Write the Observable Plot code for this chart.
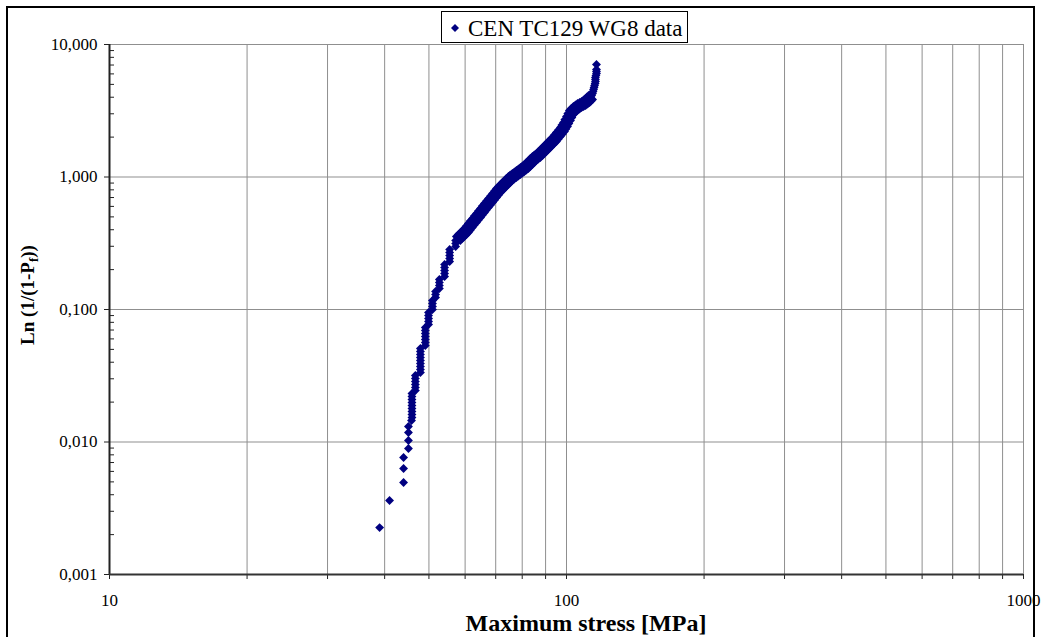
<!DOCTYPE html>
<html>
<head>
<meta charset="utf-8">
<script src="https://cdn.jsdelivr.net/npm/d3@7"></script>
<script src="https://cdn.jsdelivr.net/npm/@observablehq/plot@0.6"></script>
<style>
  body { margin: 0; background: #fff; overflow: hidden; }
  #wrap { position: relative; width: 1041px; height: 637px; font-family: "Liberation Serif", "Times New Roman", serif; }
  #wrap > svg { position: absolute; left: 0; top: 0; }
  #overlay { pointer-events: none; }
</style>
</head>
<body>
<div id="wrap"></div>
<script>
// ---- data ----
const seriesName = "CEN TC129 WG8 data";
const xTitle = "Maximum stress [MPa]";

// maximum stress [MPa]
const stress = [
  39.0, 41.0, 44.0, 44.0, 44.0, 45.1, 45.1, 45.1, 45.1, 45.8,
  45.9, 45.9, 45.9, 45.9, 45.9, 45.9, 45.9, 45.9, 45.9,
  46.7, 46.7, 46.7, 46.7, 46.7, 46.7,
  47.9, 47.9, 47.9, 47.9, 47.9, 47.9, 47.9, 47.9, 47.9,
  49.1, 49.1, 49.1, 49.1, 49.1, 49.1, 49.1,
  49.9, 49.9, 49.9, 49.9, 49.9,
  50.9, 50.9, 50.9, 50.9,
  51.7, 51.7, 51.7,
  52.7, 52.7, 52.7, 52.7,
  54.1, 54.1, 54.1, 54.1, 54.1,
  55.5, 55.5, 55.5, 55.5, 55.5,
  57.2, 57.2, 57.2,
  58.0, 58.6, 59.2, 59.8, 60.4, 61.0, 61.6, 62.2, 62.9, 63.5,
  64.2, 64.8, 65.5, 66.1, 66.8, 67.5, 68.2, 68.9, 69.6, 70.3,
  71.0, 71.7, 72.4, 73.1, 73.9, 74.6, 75.4, 76.1, 76.9, 77.7,
  78.5, 79.3, 80.1, 80.9, 81.7, 82.5, 83.4, 84.2, 85.1, 85.9,
  86.8, 87.7, 88.6, 89.5, 90.4, 91.3, 92.2, 93.1, 94.1, 95.0,
  96.0, 97.0, 98.0, 98.7, 99.5, 100.2, 101.0, 101.7, 102.5, 103.5,
  104.6, 105.7, 106.8, 107.9, 109.0, 110.1, 111.2, 112.0, 112.9, 113.5,
  114.0, 114.3, 114.6, 114.9, 115.2, 115.5, 115.7, 115.7, 115.7, 116.0,
  116.3, 116.3, 116.3, 116.3
];

// Ln(1/(1-Pf))
const lnValues = [
  0.00226, 0.00362, 0.00495, 0.00631, 0.00764, 0.00893, 0.01026, 0.0118, 0.01309, 0.01453,
  0.01531, 0.01613, 0.01699, 0.0179, 0.01886, 0.01987, 0.02093, 0.02205, 0.02323,
  0.02447, 0.02578, 0.02716, 0.02861, 0.03015, 0.03176,
  0.03346, 0.03525, 0.03713, 0.03912, 0.04121, 0.04341, 0.04574, 0.04819, 0.05076,
  0.05349, 0.05635, 0.05937, 0.06254, 0.0659, 0.06942, 0.07314,
  0.07705, 0.08118, 0.08553, 0.0901, 0.09493,
  0.1, 0.1054, 0.111, 0.1169,
  0.1232, 0.1297, 0.1367,
  0.1441, 0.1517, 0.1599, 0.1684,
  0.1774, 0.1869, 0.1969, 0.2075, 0.2186,
  0.2303, 0.2426, 0.2556, 0.2693, 0.2837,
  0.2989, 0.3149, 0.3317,
  0.3434, 0.356, 0.3683, 0.381, 0.3947, 0.412, 0.4304, 0.449, 0.4694, 0.490,
  0.5121, 0.535, 0.5587, 0.583, 0.6094, 0.637, 0.6648, 0.694, 0.7251, 0.757,
  0.7909, 0.819, 0.8477, 0.878, 0.9089, 0.941, 0.9742, 1.000, 1.026, 1.053,
  1.081, 1.110, 1.139, 1.169, 1.200, 1.243, 1.287, 1.332, 1.379, 1.416,
  1.453, 1.505, 1.558, 1.613, 1.670, 1.729, 1.790, 1.853, 1.919, 2.004,
  2.093, 2.186, 2.283, 2.385, 2.491, 2.624, 2.764, 2.912, 3.068, 3.176,
  3.289, 3.375, 3.464, 3.525, 3.587, 3.681, 3.779, 3.879, 3.981, 4.12,
  4.267, 4.42, 4.575, 4.74, 4.904, 5.08, 5.258, 5.44, 5.637, 5.84,
  6.041, 6.25, 6.476, 7.066
];

// axis ticks
const xMajorTicks = [10, 100, 1000];
const xMinorTicks = [20, 30, 40, 50, 60, 70, 80, 90, 200, 300, 400, 500, 600, 700, 800, 900];
const xGridTicks = [20, 30, 40, 50, 60, 70, 80, 90, 100, 200, 300, 400, 500, 600, 700, 800, 900, 1000];
const yMajorTicks = [0.001, 0.01, 0.1, 1, 10];
const yMinorTicks = [
  0.002, 0.003, 0.004, 0.005, 0.006, 0.007, 0.008, 0.009,
  0.02, 0.03, 0.04, 0.05, 0.06, 0.07, 0.08, 0.09,
  0.2, 0.3, 0.4, 0.5, 0.6, 0.7, 0.8, 0.9,
  2, 3, 4, 5, 6, 7, 8, 9
];

const points = stress.map((s, i) => ({stress: s, ln: lnValues[i]}));
// the diagonal part of the curve is a thick band of overlapping specimens;
// it is drawn with a small pixel offset either side so that it reads as a band
const band = points.filter(d => d.ln >= 0.34 && d.ln < 4.0);
const fmtY = d => d.toFixed(3).replace(".", ",");
const dotStyle = {x: "stress", y: "ln", symbol: "diamond2", r: 4.0, fill: "#000080", stroke: "none"};

const chart = Plot.plot({
  width: 1041,
  height: 637,
  marginLeft: 109,
  marginRight: 18,
  marginTop: 44,
  marginBottom: 63,
  x: {type: "log", domain: [10, 1000], label: null},
  y: {type: "log", domain: [0.001, 10], label: null},
  style: {fontFamily: "Liberation Serif, Times New Roman, serif", fontSize: "17px", color: "#000", background: "transparent", overflow: "visible"},
  marks: [
    Plot.gridX(xGridTicks, {stroke: "#8f8f8f", strokeOpacity: 1, strokeWidth: 1}),
    Plot.gridY(yMajorTicks, {stroke: "#8f8f8f", strokeOpacity: 1, strokeWidth: 1}),
    Plot.axisX(xMinorTicks, {tickSize: 5, fill: "none", stroke: "#222", label: null}),
    Plot.axisX(xMajorTicks, {tickSize: 5, tickPadding: 14, tickFormat: d => String(d), stroke: "#222", label: null}),
    Plot.axisY(yMajorTicks, {tickSize: 5, tickPadding: 7, tickFormat: fmtY, stroke: "#222", label: null}),
    Plot.axisY(yMinorTicks, {tickSize: 5, dx: 5, fill: "none", stroke: "#222", label: null}),
    Plot.ruleX([10], {stroke: "#222", strokeWidth: 2}),
    Plot.ruleY([0.001], {stroke: "#333", strokeWidth: 2}),
    Plot.dot(band, {...dotStyle, dx: 2, dy: 2}),
    Plot.dot(band, {...dotStyle, dx: -2, dy: -2}),
    Plot.dot(points, dotStyle)
  ]
});

const wrap = document.getElementById("wrap");
wrap.appendChild(chart);

// overlay: chart border, legend, axis titles
const ns = "http://www.w3.org/2000/svg";
const ov = document.createElementNS(ns, "svg");
ov.setAttribute("id", "overlay");
ov.setAttribute("width", 1041);
ov.setAttribute("height", 637);
ov.innerHTML = `
  <rect x="7" y="7" width="1027" height="640" fill="none" stroke="#000" stroke-width="2"/>
  <rect x="441.5" y="11.5" width="246" height="31" fill="#fff" stroke="#000" stroke-width="1"/>
  <path d="M455,24L459,28L455,32L451,28Z" fill="#000080"/>
  <text x="468" y="36" font-size="23" font-family="Liberation Serif, Times New Roman, serif" fill="#000">${seriesName}</text>
  <text x="586" y="631" text-anchor="middle" font-size="24" font-weight="bold" font-family="Liberation Serif, Times New Roman, serif" fill="#000">${xTitle}</text>
  <text transform="translate(34,295) rotate(-90)" text-anchor="middle" font-size="19" font-weight="bold" font-family="Liberation Serif, Times New Roman, serif" fill="#000">Ln (1/(1-P<tspan font-size="13" dy="4">f</tspan><tspan dy="-4">))</tspan></text>
`;
wrap.appendChild(ov);
</script>
</body>
</html>
